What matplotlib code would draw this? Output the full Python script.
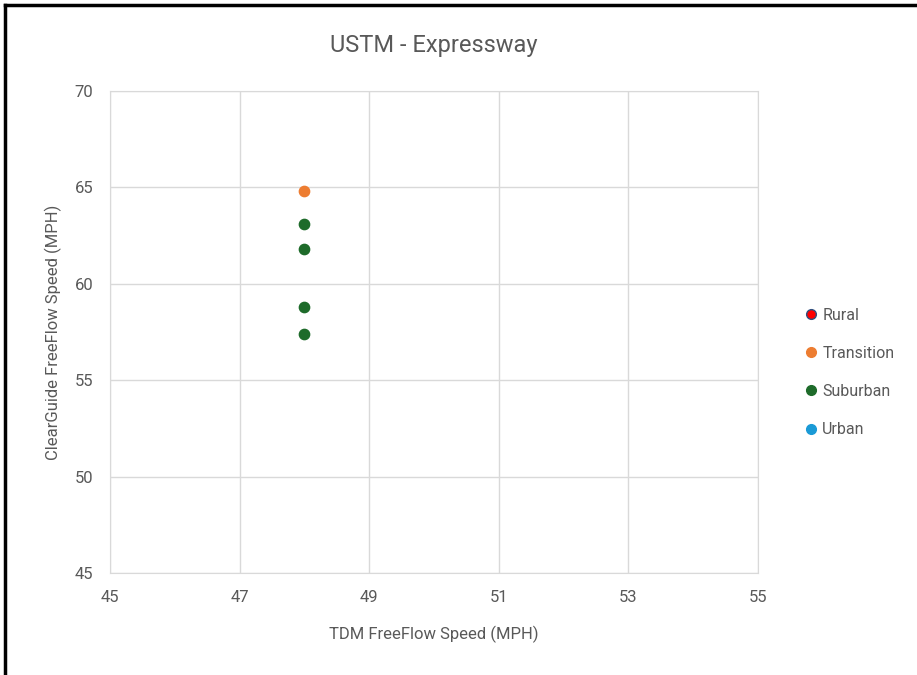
import matplotlib.pyplot as plt
from matplotlib.lines import Line2D

# area types and their points (TDM speed vs ClearGuide speed)
area_types = ["Rural", "Transition", "Suburban", "Urban"]
tdm_speed = {
    "Rural": [],
    "Transition": [48],
    "Suburban": [48, 48, 48, 48],
    "Urban": [],
}
cg_speed = {
    "Rural": [],
    "Transition": [64.8],
    "Suburban": [63.1, 61.8, 58.8, 57.4],
    "Urban": [],
}
colors = {"Rural": "#ff0000", "Transition": "#ed7d31", "Suburban": "#1e6b2a", "Urban": "#1a9ad6"}
edges = {"Rural": "#2f4f7f", "Transition": "#ed7d31", "Suburban": "#1e6b2a", "Urban": "#1a9ad6"}

plt.rcParams["font.family"] = ["Roboto", "DejaVu Sans"]
txt = "#595959"

fig = plt.figure(figsize=(9.17, 6.75), dpi=100)
ax = fig.add_axes([0.12, 0.151, 0.7066, 0.7142])

for t in area_types:
    ax.scatter(tdm_speed[t], cg_speed[t], s=55, color=colors[t], edgecolors=edges[t],
               linewidths=1, zorder=3)

ax.set_xlim(45, 55)
ax.set_ylim(45, 70)
ax.set_xticks(range(45, 56, 2))
ax.set_yticks(range(45, 71, 5))
ax.grid(True, color="#d9d9d9", linewidth=1)
for s in ax.spines.values():
    s.set_color("#d9d9d9")
ax.tick_params(length=0, labelsize=12, colors=txt, pad=12)

ax.set_title("USTM - Expressway", fontsize=17, color=txt, pad=28)
ax.set_xlabel("TDM FreeFlow Speed (MPH)", fontsize=12, color=txt, labelpad=15)
ax.set_ylabel("ClearGuide FreeFlow Speed (MPH)", fontsize=12, color=txt, labelpad=9)

handles = [Line2D([], [], marker="o", linestyle="", markersize=7,
                  markerfacecolor=colors[t], markeredgecolor=edges[t]) for t in area_types]
fig.legend(handles, area_types, loc="upper left", bbox_to_anchor=(0.867, 0.556),
           frameon=False, fontsize=11.5, labelcolor=txt, handletextpad=0.2,
           handlelength=1.0, labelspacing=1.45, borderpad=0)

# frame lines along the top and left edges
fig.add_artist(Line2D([0.005, 1.0], [0.992, 0.992], color="black", linewidth=2.5))
fig.add_artist(Line2D([0.005, 0.005], [0.0, 0.992], color="black", linewidth=2.5))

fig.savefig("out.png", dpi=100, facecolor="white")
